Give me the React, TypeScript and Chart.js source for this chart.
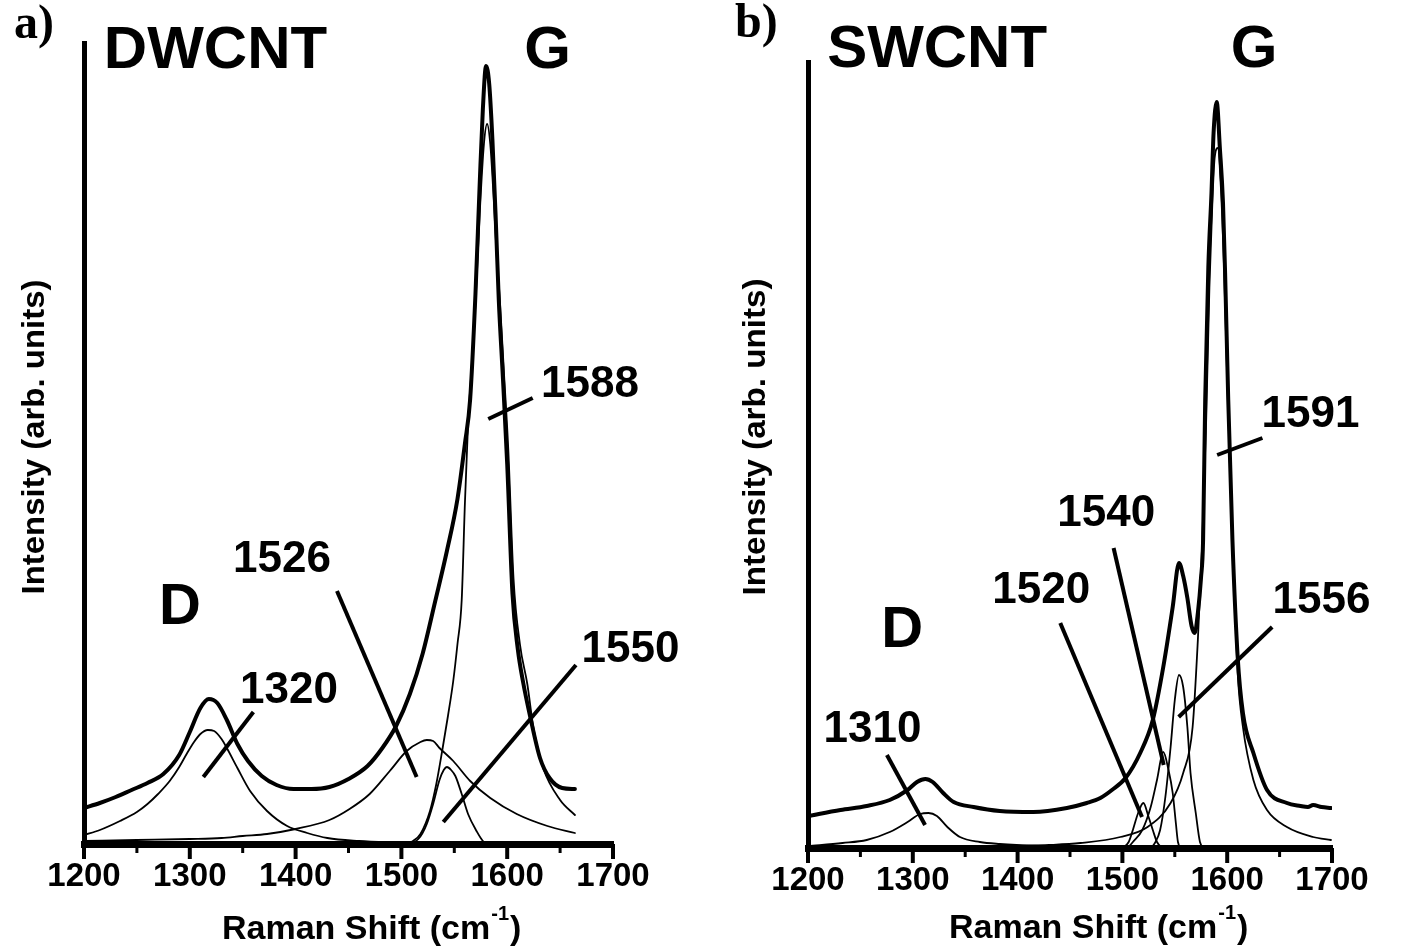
import React, { useEffect, useRef } from 'react';
import { Chart, registerables } from 'chart.js';

Chart.register(...registerables);

const SANS = '"Liberation Sans", Arial, Helvetica, sans-serif';
const SERIF = '"Liberation Serif", "Times New Roman", serif';
const PAGE_H = 947;

// Raman shift axis (cm^-1)
const SHIFT_MIN = 1200;
const SHIFT_MAX = 1700;
const SHIFT_STEP = 50;

// ---------- (a) DWCNT: measured spectrum and fitted bands ----------
const DW_TOTAL_SHIFT = [1200, 1215, 1230, 1245, 1260, 1275, 1290, 1300, 1310, 1318, 1326, 1335, 1345, 1355, 1368, 1382, 1398, 1415, 1432, 1450, 1468, 1482, 1495, 1508, 1520, 1532, 1543, 1553, 1560, 1565, 1570, 1574, 1577, 1580, 1583, 1586, 1589, 1592, 1596, 1600, 1605, 1610, 1615, 1622, 1631, 1640, 1652, 1664];
const DW_TOTAL = [36, 41, 47, 54, 61, 70, 89, 112, 136, 145, 141, 124, 100, 83, 68, 59, 55, 55, 57, 65, 78, 96, 118, 150, 190, 243, 293, 345, 400, 445, 550, 660, 735, 778, 760, 705, 630, 545, 465, 380, 250, 195, 162, 126, 86, 66, 56, 55];

const DW_1320_SHIFT = [1200, 1215, 1234, 1250, 1260, 1270, 1281, 1290, 1297, 1304, 1310, 1317, 1323, 1330, 1335, 1345, 1357, 1373, 1392, 1411, 1430, 1460, 1500];
const DW_1320 = [9, 14, 23, 32, 40, 50, 63, 77, 90, 102, 110, 114, 113, 105, 96, 76, 53, 33, 18, 11, 6, 3, 1];

const DW_1526_SHIFT = [1200, 1250, 1300, 1330, 1350, 1373, 1400, 1432, 1451, 1470, 1489, 1505, 1518, 1524, 1530, 1536, 1549, 1565, 1584, 1609, 1638, 1664];
const DW_1526 = [3, 4, 5, 6, 8, 10, 15, 24, 35, 50, 73, 93, 102, 104, 103, 96, 83, 63, 46, 30, 18, 11];

const DW_1550_SHIFT = [1506, 1512, 1516, 1520, 1524, 1530, 1536, 1540, 1543, 1547, 1551, 1557, 1563, 1571, 1577, 1582];
const DW_1550 = [0, 2, 5, 11, 20, 40, 64, 74, 77, 74, 68, 50, 30, 13, 3, 0];

const DW_1588_SHIFT = [1505, 1511, 1518, 1527, 1533, 1539, 1544, 1549, 1553, 1557, 1560, 1563, 1566, 1570, 1574, 1578, 1581, 1584, 1587, 1590, 1593, 1597, 1601, 1606, 1612, 1619, 1625, 1634, 1650, 1664];
const DW_1588 = [0, 3, 10, 33, 60, 96, 128, 163, 200, 244, 340, 420, 470, 540, 630, 700, 720, 700, 650, 590, 545, 470, 395, 265, 200, 160, 115, 76, 44, 29];

// ---------- (b) SWCNT: measured spectrum and fitted bands ----------
const SW_TOTAL_SHIFT = [1200, 1231, 1256, 1278, 1295, 1304, 1312, 1319, 1329, 1339, 1358, 1383, 1415, 1447, 1466, 1479, 1490, 1503, 1517, 1529, 1539, 1548, 1554, 1558, 1562, 1566, 1569, 1572, 1575, 1577, 1579, 1582, 1585, 1587, 1590, 1593, 1596, 1598, 1601, 1605, 1610, 1615, 1625, 1638, 1657, 1670, 1677, 1682, 1690, 1699];
const SW_TOTAL = [32, 38, 42, 48, 58, 66, 69, 66, 55, 46, 41, 37, 36, 40, 45, 50, 58, 70, 95, 128, 181, 241, 285, 272, 250, 222, 215, 235, 270, 308, 448, 581, 655, 715, 746, 700, 645, 575, 448, 308, 191, 135, 95, 58, 45, 42, 41, 43, 41, 40];

const SW_1310_SHIFT = [1200, 1233, 1256, 1278, 1295, 1307, 1315, 1323, 1333, 1345, 1364, 1383, 1420, 1460];
const SW_1310 = [2, 5, 8, 16, 26, 34, 35, 32, 21, 11, 6, 4, 2, 1];

const SW_1520_SHIFT = [1500, 1506, 1510, 1515, 1520, 1525, 1529, 1533, 1538];
const SW_1520 = [0, 6, 18, 35, 45, 31, 18, 6, 0];

const SW_1540_SHIFT = [1505, 1510, 1519, 1527, 1533, 1539, 1544, 1548, 1551, 1553, 1556];
const SW_1540 = [0, 6, 18, 41, 68, 96, 78, 55, 25, 6, 0];

const SW_1556_SHIFT = [1527, 1531, 1536, 1541, 1546, 1550, 1554, 1558, 1562, 1565, 1570, 1574, 1578];
const SW_1556 = [0, 5, 18, 51, 101, 148, 173, 161, 121, 75, 35, 6, 0];

const SW_1591_SHIFT = [1400, 1430, 1460, 1498, 1524, 1546, 1558, 1567, 1572, 1576, 1580, 1583, 1586, 1588, 1591, 1594, 1597, 1600, 1603, 1606, 1610, 1615, 1625, 1638, 1657, 1682, 1699];
const SW_1591 = [2, 3, 5, 11, 21, 45, 75, 121, 208, 300, 430, 560, 650, 690, 700, 660, 580, 470, 370, 285, 175, 121, 68, 38, 21, 11, 8];

const Y_TITLE = 'Intensity (arb. units)';
const X_TITLE = 'Raman Shift (cm';
const X_TITLE_SUP = '-1';

type Pt = [number, number];
interface Curve { shift: number[]; intensity: number[]; total?: boolean }
interface Label { text: string; at: Pt; size: number }
interface PanelSpec {
  id: string;
  left: number;
  width: number;
  area: { left: number; right: number; top: number; bottom: number };
  yMax: number;
  tickPad: number;
  curves: Curve[];
  labels: Label[];
  leaders: [Pt, Pt][];
  letter: { text: string; x: number; y: number };
  yTitle: { x: number; y: number; length: number };
  xTitle: { x: number; y: number };
}

const PANELS: PanelSpec[] = [
  {
    id: 'a',
    left: 0,
    width: 700,
    area: { left: 84, right: 613, top: 43, bottom: 844 },
    yMax: 801,
    tickPad: 13,
    curves: [
      { shift: DW_1320_SHIFT, intensity: DW_1320 },
      { shift: DW_1526_SHIFT, intensity: DW_1526 },
      { shift: DW_1550_SHIFT, intensity: DW_1550 },
      { shift: DW_1588_SHIFT, intensity: DW_1588 },
      { shift: DW_TOTAL_SHIFT, intensity: DW_TOTAL, total: true },
    ],
    labels: [
      { text: 'DWCNT', at: [1324.3, 776], size: 60 },
      { text: 'G', at: [1638.1, 776], size: 60 },
      { text: 'D', at: [1290.7, 220], size: 58 },
      { text: '1320', at: [1393.8, 141], size: 44 },
      { text: '1526', at: [1387.1, 272], size: 44 },
      { text: '1550', at: [1716.5, 182], size: 44 },
      { text: '1588', at: [1678.3, 447], size: 44 },
    ],
    leaders: [
      [[1312.8, 67], [1360.1, 132]],
      [[1439.1, 253], [1514.4, 67]],
      [[1539.6, 22], [1665, 179]],
      [[1582.1, 425], [1624.1, 446]],
    ],
    letter: { text: 'a)', x: 14, y: 38 },
    yTitle: { x: 35, y: 437, length: 315 },
    xTitle: { x: 222, y: 939 },
  },
  {
    id: 'b',
    left: 700,
    width: 702,
    area: { left: 108, right: 632, top: 62, bottom: 848 },
    yMax: 786,
    tickPad: 13,
    curves: [
      { shift: SW_1310_SHIFT, intensity: SW_1310 },
      { shift: SW_1520_SHIFT, intensity: SW_1520 },
      { shift: SW_1540_SHIFT, intensity: SW_1540 },
      { shift: SW_1556_SHIFT, intensity: SW_1556 },
      { shift: SW_1591_SHIFT, intensity: SW_1591 },
      { shift: SW_TOTAL_SHIFT, intensity: SW_TOTAL, total: true },
    ],
    labels: [
      { text: 'SWCNT', at: [1323.2, 781], size: 60 },
      { text: 'G', at: [1625.6, 781], size: 60 },
      { text: 'D', at: [1289.8, 201], size: 58 },
      { text: '1310', at: [1261.6, 106], size: 44 },
      { text: '1520', at: [1422.5, 245], size: 44 },
      { text: '1540', at: [1484.6, 322], size: 44 },
      { text: '1556', at: [1690, 235], size: 44 },
      { text: '1591', at: [1679.5, 421], size: 44 },
    ],
    leaders: [
      [[1275.3, 93], [1311.7, 23]],
      [[1440.7, 225], [1518.7, 31]],
      [[1491.6, 300], [1539.4, 83]],
      [[1642.9, 221], [1553.7, 131]],
      [[1590.4, 393], [1633.6, 410]],
    ],
    letter: { text: 'b)', x: 35, y: 37 },
    yTitle: { x: 56, y: 437, length: 317 },
    xTitle: { x: 249, y: 938 },
  },
];

// Tick marks, peak labels with leader lines, panel letter and axis titles.
function decorations(spec: PanelSpec) {
  return {
    id: 'decor-' + spec.id,
    afterDraw(chart: any) {
      const { ctx, chartArea } = chart;
      const xs = chart.scales.x;
      const ys = chart.scales.y;
      ctx.save();
      ctx.fillStyle = '#000';
      ctx.strokeStyle = '#000';

      for (const t of xs.ticks) {
        const px = xs.getPixelForValue(t.value);
        const major = t.value % 100 === 0;
        ctx.lineWidth = major ? 4 : 3;
        ctx.beginPath();
        ctx.moveTo(px, chartArea.bottom);
        ctx.lineTo(px, chartArea.bottom + (major ? 15 : 9));
        ctx.stroke();
      }

      ctx.lineWidth = 4;
      ctx.lineCap = 'butt';
      for (const [p, q] of spec.leaders) {
        ctx.beginPath();
        ctx.moveTo(xs.getPixelForValue(p[0]), ys.getPixelForValue(p[1]));
        ctx.lineTo(xs.getPixelForValue(q[0]), ys.getPixelForValue(q[1]));
        ctx.stroke();
      }

      ctx.textAlign = 'center';
      ctx.textBaseline = 'alphabetic';
      for (const l of spec.labels) {
        ctx.font = `bold ${l.size}px ${SANS}`;
        ctx.fillText(l.text, xs.getPixelForValue(l.at[0]), ys.getPixelForValue(l.at[1]));
      }

      ctx.textAlign = 'left';
      ctx.font = `bold 48px ${SERIF}`;
      ctx.fillText(spec.letter.text, spec.letter.x, spec.letter.y);

      // rotated y title
      ctx.save();
      ctx.translate(spec.yTitle.x, spec.yTitle.y);
      ctx.rotate(-Math.PI / 2);
      ctx.font = `bold 31px ${SANS}`;
      const w = ctx.measureText(Y_TITLE).width;
      ctx.scale(spec.yTitle.length / w, 1);
      ctx.textAlign = 'center';
      ctx.textBaseline = 'middle';
      ctx.fillText(Y_TITLE, 0, 0);
      ctx.restore();

      // x title with superscript unit
      const { x, y } = spec.xTitle;
      ctx.textAlign = 'left';
      ctx.textBaseline = 'alphabetic';
      ctx.font = `bold 34px ${SANS}`;
      ctx.fillText(X_TITLE, x, y);
      let cx = x + ctx.measureText(X_TITLE).width + 1;
      ctx.font = `bold 20px ${SANS}`;
      ctx.fillText(X_TITLE_SUP, cx, y - 19);
      cx += ctx.measureText(X_TITLE_SUP).width + 1;
      ctx.font = `bold 34px ${SANS}`;
      ctx.fillText(')', cx, y);

      ctx.restore();
    },
  };
}

function SpectrumPanel({ spec }: { spec: PanelSpec }) {
  const ref = useRef<HTMLCanvasElement | null>(null);

  useEffect(() => {
    const canvas = ref.current;
    if (!canvas) return;
    const a = spec.area;
    const chart = new Chart(canvas, {
      type: 'line',
      data: {
        datasets: spec.curves.map((c) => ({
          data: c.shift.map((s, i) => ({ x: s, y: c.intensity[i] })),
          borderColor: '#000',
          borderWidth: c.total ? 4 : 1.8,
          pointRadius: 0,
          fill: false,
          cubicInterpolationMode: 'monotone' as const,
          borderCapStyle: 'round' as const,
          borderJoinStyle: 'round' as const,
        })),
      },
      options: {
        responsive: false,
        animation: false,
        events: [],
        layout: {
          autoPadding: false,
          padding: { left: 0, right: spec.width - a.right, top: a.top, bottom: 0 },
        },
        plugins: {
          legend: { display: false },
          tooltip: { enabled: false },
          title: { display: false },
        },
        scales: {
          x: {
            type: 'linear',
            position: 'bottom',
            min: SHIFT_MIN,
            max: SHIFT_MAX,
            afterFit: (s: any) => {
              s.height = PAGE_H - a.bottom;
            },
            grid: { display: false, drawTicks: false },
            border: { display: true, color: '#000', width: 7 },
            ticks: {
              stepSize: SHIFT_STEP,
              autoSkip: false,
              maxRotation: 0,
              minRotation: 0,
              padding: spec.tickPad,
              color: '#000',
              font: { family: SANS, size: 33, weight: 'bold' },
              callback: (v: any) => (Number(v) % 100 === 0 ? String(v) : ''),
            },
          },
          y: {
            type: 'linear',
            min: 0,
            max: spec.yMax,
            afterFit: (s: any) => {
              s.width = a.left;
            },
            grid: { display: false, drawTicks: false },
            border: { display: true, color: '#000', width: 5 },
            ticks: { display: false },
          },
        },
      },
      plugins: [decorations(spec)],
    } as any);
    return () => chart.destroy();
  }, [spec]);

  return (
    <div style={{ position: 'absolute', left: spec.left, top: 0, width: spec.width, height: PAGE_H }}>
      <canvas
        ref={ref}
        width={spec.width}
        height={PAGE_H}
        style={{ display: 'block', width: spec.width, height: PAGE_H }}
      />
    </div>
  );
}

export default function App() {
  return (
    <div style={{ position: 'absolute', left: 0, top: 0, width: 1402, height: PAGE_H, background: '#fff', overflow: 'hidden' }}>
      {PANELS.map((p) => (
        <SpectrumPanel key={p.id} spec={p} />
      ))}
    </div>
  );
}
